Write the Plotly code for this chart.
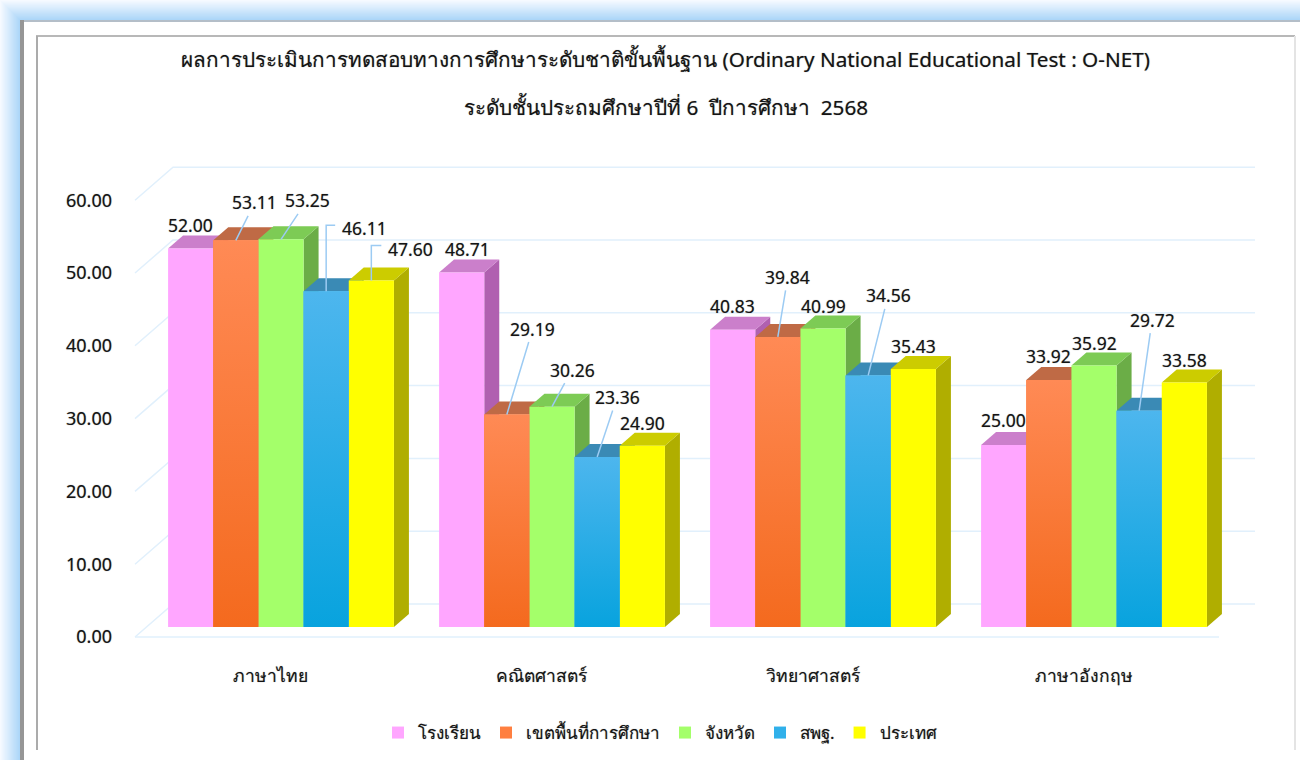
import plotly.graph_objects as go

# ---- data ----
categories = ["ภาษาไทย", "คณิตศาสตร์", "วิทยาศาสตร์", "ภาษาอังกฤษ"]
series_names = ["โรงเรียน", "เขตพื้นที่การศึกษา", "จังหวัด", "สพฐ.", "ประเทศ"]
school = [52.00, 48.71, 40.83, 25.00]
district = [53.11, 29.19, 39.84, 33.92]
province = [53.25, 30.26, 40.99, 35.92]
obec = [46.11, 23.36, 34.56, 29.72]
country = [47.60, 24.90, 35.43, 33.58]
y_ticks = [0, 10, 20, 30, 40, 50, 60]
title_line1 = "ผลการประเมินการทดสอบทางการศึกษาระดับชาติขั้นพื้นฐาน (Ordinary National Educational Test : O-NET)"
title_line2 = "ระดับชั้นประถมศึกษาปีที่ 6  ปีการศึกษา  2568"
all_values = [school, district, province, obec, country]

# ---- styles ----
FONT = "Noto Sans, Open Sans, sans-serif"
TEXT = "#141414"
SHADOW = "0 0 1px rgba(0,0,0,0.45)"
GRID = "#E1F0FC"
LEADER = "#9CCBF3"
front = ["#FFA6FF", "#FF7F40", "#A4FF6A", "#30B0EA", "#FFFF00"]
top_face = ["#CB7FCB", "#BF6A45", "#7DCB55", "#3A8AB5", "#CCCC00"]
side_face = ["#B060B0", "#A8552A", "#6BAD47", "#2F7AA4", "#B0AE00"]
gradients = {1: ("#F46A1E", "#FF8A55"), 3: ("#08A3DE", "#4DB6EE")}


def font(size):
    return dict(family=FONT, size=size, color=TEXT, shadow=SHADOW)


# label offsets from the top-front centre of each bar, in pixels (series by group)
label_dx = [[0, 6, 0, 0], [19, 26, 10, 0], [26, 20, 0, 0], [38, 20, 20, 13], [39, 0, 0, 0]]
label_dy = [[-23, -23, -24, -25], [-38, -86, -60, -24], [-39, -37, -23, -23],
            [-63, -60, -80, -91], [-31, -23, -23, -23]]
straight = {(1, 0), (2, 0), (1, 1), (2, 1), (3, 1), (1, 2), (3, 2), (3, 3)}
elbow = {(3, 0): (9, -66), (4, 0): (10, -35)}

# ---- geometry (pixels in the 1300x760 page) ----
W, H = 1300, 760
PX_CAT = 271.0
PX_UNIT = 7.28
LEFT, RIGHT, TOP, BOTTOM = 125, 1290, 100, 650
X0_PX = 270.5   # category 0 of the floor axis
Y0_PX = 637.0   # value 0 of the floor axis
SHIFT_X, SHIFT_Y = 10.5, 10.0   # bars sit inside the floor
BACK_DX, BACK_DY = 38 / PX_CAT, 33 / PX_UNIT
BAR_DX, BAR_DY = 15 / PX_CAT, 13 / PX_UNIT
BAR_W = 1 / 6


def xrange_for(x0):
    return [(LEFT - x0) / PX_CAT, (RIGHT - x0) / PX_CAT]


def yrange_for(y0):
    return [(y0 - BOTTOM) / PX_UNIT, (y0 - TOP) / PX_UNIT]


fig = go.Figure()
groups = list(range(len(categories)))
SKIP = dict(hoverinfo="skip", showlegend=False)

# floor, back wall and diagonals
x_back_l, x_back_r = BACK_DX - 0.5, 3.5 + (1255 - 1219) / PX_CAT
gx, gy = [], []
for t in y_ticks:
    gx += [-0.5, x_back_l, x_back_r, None]
    gy += [t, t + BACK_DY, t + BACK_DY, None]
gx += [-0.5, 3.5]
gy += [0, 0]
fig.add_trace(go.Scatter(x=gx, y=gy, mode="lines", line=dict(color=GRID, width=1.5),
                         xaxis="x", yaxis="y", **SKIP))


def bar_left(g, s):
    return g + (s - 2.5) * BAR_W


# side and top faces, painted left to right
for g in groups:
    for s, vals in enumerate(all_values):
        v = vals[g]
        l = bar_left(g, s)
        r = l + BAR_W
        fig.add_trace(go.Scatter(x=[r, r + BAR_DX, r + BAR_DX, r, r], y=[0, BAR_DY, v + BAR_DY, v, 0],
                                 mode="lines", fill="toself", fillcolor=side_face[s],
                                 line=dict(width=0), xaxis="x2", yaxis="y2", **SKIP))
        fig.add_trace(go.Scatter(x=[l, r, r + BAR_DX, l + BAR_DX, l], y=[v, v, v + BAR_DY, v + BAR_DY, v],
                                 mode="lines", fill="toself", fillcolor=top_face[s],
                                 line=dict(width=0), xaxis="x2", yaxis="y2", **SKIP))

# front faces
for s, vals in enumerate(all_values):
    fig.add_trace(go.Bar(x=groups, y=vals, name=series_names[s], marker=dict(color=front[s], line=dict(width=0)),
                         xaxis="x3", yaxis="y3", hoverinfo="y"))

# gradient sheen for the two graded series
for s, (bottom, upper) in gradients.items():
    for g in groups:
        v = all_values[s][g]
        l = bar_left(g, s)
        r = l + BAR_W
        fig.add_trace(go.Scatter(x=[l, r, r, l, l], y=[0, 0, v, v, 0], mode="lines", fill="toself",
                                 fillgradient=dict(type="vertical", colorscale=[[0, bottom], [1, upper]]),
                                 line=dict(width=0), xaxis="x4", yaxis="y4", **SKIP))

# elbow leaders
for (s, g), (ex, ey) in elbow.items():
    v = all_values[s][g]
    xc = bar_left(g, s) + BAR_W / 2
    fig.add_trace(go.Scatter(x=[xc, xc, xc + ex / PX_CAT], y=[v, v - ey / PX_UNIT, v - ey / PX_UNIT],
                             mode="lines", line=dict(color=LEADER, width=1.5),
                             xaxis="x4", yaxis="y4", **SKIP))

# data labels
annotations = []
for s, vals in enumerate(all_values):
    for g in groups:
        v = vals[g]
        xc = bar_left(g, s) + BAR_W / 2
        dx, dy = label_dx[s][g], label_dy[s][g]
        base = dict(x=xc, y=v, xref="x4", yref="y4", text=f"{v:.2f}", font=font(17.5))
        if (s, g) in straight:
            annotations.append(dict(base, showarrow=True, arrowhead=0, arrowwidth=1.5, arrowcolor=LEADER,
                                    ax=dx, ay=dy, axref="pixel", ayref="pixel"))
        else:
            annotations.append(dict(base, showarrow=False, xshift=dx, yshift=-dy))

annotations.append(dict(x=665.5 / W, y=1 - 107 / H, xref="paper", yref="paper", text=title_line2, showarrow=False,
                        xanchor="center", yanchor="middle", font=font(20.7)))


# page frame
def mix(a, b, t):
    ca = [int(a[i:i + 2], 16) for i in (1, 3, 5)]
    cb = [int(b[i:i + 2], 16) for i in (1, 3, 5)]
    return "#" + "".join(f"{round(p + (q - p) * t):02X}" for p, q in zip(ca, cb))


def rect(x0, y0, x1, y1, **kw):
    return dict(type="rect", xref="paper", yref="paper", x0=x0 / W, x1=x1 / W, y0=1 - y1 / H, y1=1 - y0 / H,
                layer="below", line=dict(width=0), **kw)


shapes = []
for i in range(0, 21):
    shapes.append(rect(i, i, W, H, fillcolor=mix("#F6FAFF", "#A8D4F8", i / 20)))
shapes += [
    rect(20, 20, 24, H, fillcolor="#969696"),
    rect(24, 20, W, 22, fillcolor="#B4BEC8"),
    rect(24, 22, W, H, fillcolor="#FFFFFF"),
    rect(36, 35, 1295, 37, fillcolor="#B8B8B8"),
    rect(36, 36, 38, 750, fillcolor="#ABABAB"),
    rect(1294, 36, 1296, 750, fillcolor="#E4E4E4"),
]

hidden = dict(visible=False, fixedrange=True)
layout_axes = dict(
    xaxis=dict(domain=[LEFT / W, RIGHT / W], range=xrange_for(X0_PX), tickvals=groups, ticktext=categories,
               showgrid=False, zeroline=False, showline=False, ticks="", ticklabelstandoff=13,
               tickfont=font(17.5)),
    yaxis=dict(domain=[1 - BOTTOM / H, 1 - TOP / H], range=yrange_for(Y0_PX), tickvals=y_ticks, tickformat=".2f",
               showgrid=False, zeroline=False, showline=False, ticks="", ticklabelstandoff=12,
               tickfont=font(18)),
)
for n in (2, 3, 4):
    layout_axes[f"xaxis{n}"] = dict(hidden, overlaying="x", anchor=f"y{n}", domain=[LEFT / W, RIGHT / W],
                                    range=xrange_for(X0_PX + SHIFT_X))
    layout_axes[f"yaxis{n}"] = dict(hidden, overlaying="y", anchor=f"x{n}", domain=[1 - BOTTOM / H, 1 - TOP / H],
                                    range=yrange_for(Y0_PX - SHIFT_Y))

fig.update_layout(
    width=W, height=H, autosize=False, margin=dict(l=0, r=0, t=0, b=0),
    paper_bgcolor="#FFFFFF", plot_bgcolor="rgba(0,0,0,0)",
    barmode="group", bargap=1 / 6, bargroupgap=0,
    title=dict(text=title_line1, x=665.5 / W, xanchor="center", y=1 - 60 / H, yanchor="middle", font=font(20.7)),
    legend=dict(orientation="h", x=660 / W, xanchor="center", y=1 - 733 / H, yanchor="middle",
                bgcolor="rgba(0,0,0,0)", font=font(17), traceorder="normal"),
    annotations=annotations, shapes=shapes, **layout_axes,
)

fig.write_html("out.html", config=dict(displayModeBar=False),
               post_script="document.body.style.margin='0';document.body.style.overflow='hidden';")
